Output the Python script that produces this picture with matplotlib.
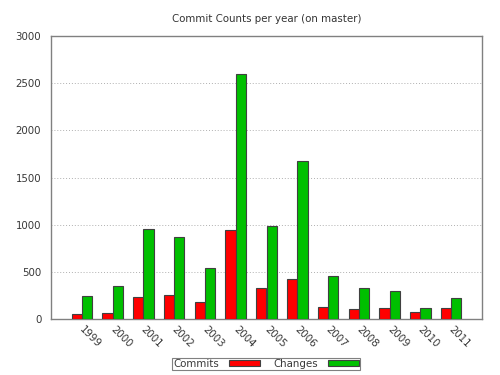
import matplotlib
matplotlib.use("Agg")
import matplotlib.pyplot as plt
import matplotlib.transforms as mtrans
import numpy as np

years = ["1999", "2000", "2001", "2002", "2003", "2004", "2005",
         "2006", "2007", "2008", "2009", "2010", "2011"]
commits = [50, 70, 230, 255, 180, 940, 330, 420, 127, 103, 113, 74, 113]
changes = [240, 350, 950, 875, 540, 2600, 990, 1675, 460, 325, 300, 113, 226]

plt.rcParams['font.family'] = ['DejaVu Sans']
plt.rcParams['font.stretch'] = 'condensed'
fig = plt.figure(figsize=(5, 3.75), dpi=100)
ax = fig.add_axes([0.102, 0.149, 0.862, 0.755])

x = np.arange(len(years))
w = 1.0 / 3
ax.bar(x - w / 2, commits, width=w, color="#ff0000", edgecolor="#404040",
       linewidth=0.8, label="Commits", zorder=3)
ax.bar(x + w / 2, changes, width=w, color="#00c000", edgecolor="#404040",
       linewidth=0.8, label="Changes", zorder=3)

FS = 8.2
ax.set_xlim(-1, 13)
ax.set_ylim(0, 3000)
ax.set_yticks(np.arange(0, 3001, 500))
ax.yaxis.grid(True, linestyle=(0, (1, 2)), color="#b0b0b0", linewidth=0.7, zorder=0)
ax.set_xticks(x)
ax.set_xticklabels(years, rotation=-45, ha="left", va="top",
                   rotation_mode="anchor")
ax.tick_params(axis="both", length=0, labelsize=FS, colors="#383838")
ax.tick_params(axis="y", pad=7)
ax.tick_params(axis="x", pad=4)
off = mtrans.ScaledTranslation(3 / 100, 0, fig.dpi_scale_trans)
for lbl in ax.get_xticklabels():
    lbl.set_transform(lbl.get_transform() + off)
for s in ax.spines.values():
    s.set_color("#808080")
    s.set_linewidth(1.0)

ax.set_title("Commit Counts per year (on master)", fontsize=FS,
             color="#333333", pad=10)

leg = fig.legend(loc="center", bbox_to_anchor=(0.532, 0.029), ncol=2,
                 markerfirst=False, fontsize=FS, frameon=True, fancybox=False,
                 handlelength=2.7, handleheight=0.45, borderpad=0.1,
                 columnspacing=1.2, handletextpad=0.9, borderaxespad=0)
leg.get_frame().set_edgecolor("#606060")
leg.get_frame().set_linewidth(0.8)
for t in leg.get_texts():
    t.set_color("#383838")

fig.savefig("out.png", dpi=100)
